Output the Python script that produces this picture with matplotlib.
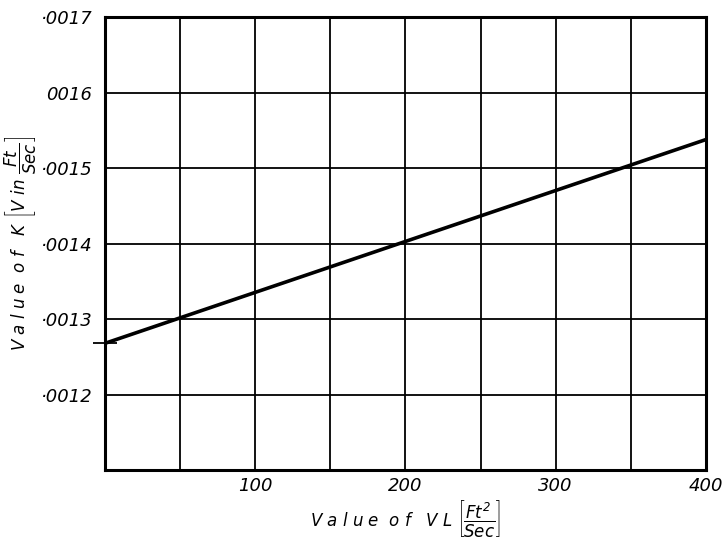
import matplotlib
matplotlib.use("Agg")
import matplotlib.pyplot as plt
import numpy as np

# values
vl = [0, 400]
k = [0.001268, 0.001538]

x_ticks = [100, 200, 300, 400]
x_ticklabels = ["100", "200", "300", "400"]
y_ticks = [0.0012, 0.0013, 0.0014, 0.0015, 0.0016, 0.0017]
y_ticklabels = ["·0012", "·0013", "·0014", "·0015", "0016", "·0017"]

plt.rcParams['font.family'] = 'DejaVu Sans'
plt.rcParams['mathtext.fontset'] = 'custom'
plt.rcParams['mathtext.it'] = 'DejaVu Sans:italic'
plt.rcParams['mathtext.rm'] = 'DejaVu Sans:italic'

fig = plt.figure(figsize=(7.23, 5.38), dpi=100)
ax = fig.add_axes([0.145, 0.126, 0.8315, 0.842])

ax.set_xlim(0, 400)
ax.set_ylim(0.0011, 0.0017)

# grid every 50 / .0001
ax.set_xticks(np.arange(50, 400, 50), minor=True)
ax.set_xticks(x_ticks)
ax.set_xticklabels(x_ticklabels, fontstyle='italic', fontsize=13)
ax.set_yticks(y_ticks)
ax.set_yticklabels(y_ticklabels, fontstyle='italic', fontsize=13)
ax.grid(True, which='both', color='black', linewidth=1.3)
ax.tick_params(which='both', length=0)
ax.tick_params(axis='y', pad=9)
ax.tick_params(axis='x', pad=5)

for s in ax.spines.values():
    s.set_linewidth(2.2)

ax.plot(vl, k, color='black', linewidth=2.6, solid_capstyle='butt')
ax.plot(vl[0], k[0], marker='_', markersize=17, markeredgewidth=1.3,
        color='black', clip_on=False)

ax.set_xlabel(r"V a l u e  o f   V L $\left[\dfrac{Ft^2}{Sec}\right]$",
              fontstyle='italic', fontsize=12, labelpad=2)
ax.set_ylabel(r"V a l u e  o f   K $\left[V\ in\ \dfrac{Ft}{Sec}\right]$",
              fontstyle='italic', fontsize=12, labelpad=2)

fig.savefig("out.png", dpi=100)
